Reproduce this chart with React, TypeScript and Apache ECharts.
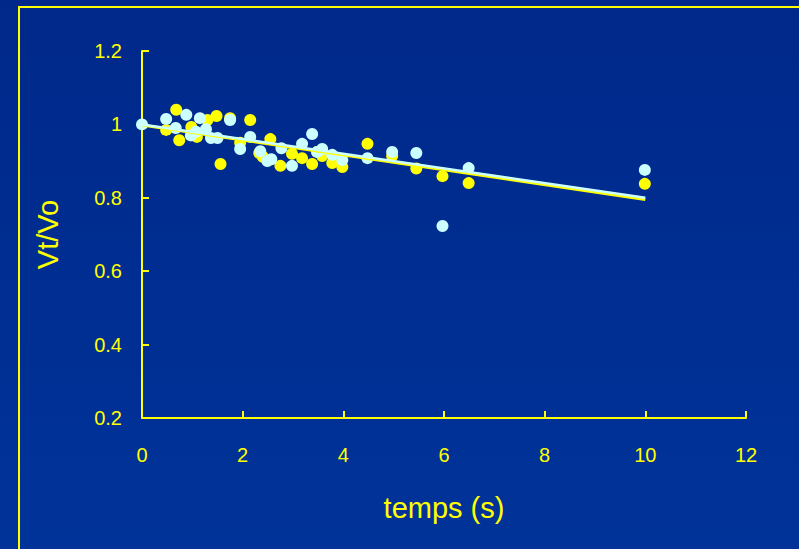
import React, { useEffect, useRef } from "react";
import * as echarts from "echarts";

const xTicks = { min: 0, max: 12, interval: 2 };
const yTicks = { min: 0.2, max: 1.2, interval: 0.2 };

const yellowPoints: [number, number][] = [
  [0.68, 1.04], [0.48, 0.985], [0.74, 0.957], [0.98, 0.993], [1.09, 0.966],
  [1.3, 1.012], [1.48, 1.023], [1.56, 0.892], [1.75, 1.017], [2.15, 1.012],
  [1.95, 0.95], [2.33, 0.922], [2.4, 0.912], [2.55, 0.96], [2.75, 0.887],
  [2.98, 0.92], [3.18, 0.908], [3.38, 0.892], [3.48, 0.925], [3.58, 0.914],
  [3.78, 0.895], [3.98, 0.884], [4.48, 0.947], [4.97, 0.914], [5.45, 0.88],
  [5.97, 0.859], [6.49, 0.84], [9.99, 0.838],
];

const cyanPoints: [number, number][] = [
  [0, 1.0], [0.48, 1.015], [0.88, 1.026], [1.15, 1.017], [0.67, 0.99],
  [0.97, 0.97], [1.07, 0.98], [1.27, 0.987], [1.37, 0.963], [1.5, 0.963],
  [1.75, 1.012], [1.95, 0.933], [2.15, 0.966], [2.35, 0.927], [2.49, 0.9],
  [2.57, 0.905], [2.77, 0.935], [2.98, 0.887], [3.18, 0.947], [3.38, 0.974],
  [3.48, 0.925], [3.58, 0.933], [3.78, 0.917], [3.98, 0.903], [4.48, 0.908],
  [4.97, 0.925], [5.45, 0.922], [5.97, 0.723], [6.49, 0.881], [9.99, 0.876],
];

const yellowFit: [number, number][] = [[0, 0.998], [10, 0.795]];
const cyanFit: [number, number][] = [[0, 1.0], [10, 0.8]];

const YELLOW = "#ffff00";
const CYAN = "#ccffff";
const FONT = "Liberation Sans";

export default function App() {
  const ref = useRef<HTMLDivElement>(null);
  useEffect(() => {
    if (!ref.current) return;
    const chart = echarts.init(ref.current, null, { renderer: "svg" });
    chart.setOption({
      animation: false,
      backgroundColor: {
        type: "linear", x: 0, y: 0, x2: 0, y2: 1,
        colorStops: [
          { offset: 0, color: "#00288a" },
          { offset: 1, color: "#003399" },
        ],
      },
      graphic: [
        {
          type: "rect",
          shape: { x: 19, y: 7, width: 790, height: 560 },
          style: { fill: "none", stroke: YELLOW, lineWidth: 2 },
          silent: true,
        },
      ],
      grid: { left: 142, right: 53, top: 51, bottom: 131, containLabel: false },
      xAxis: {
        type: "value",
        min: xTicks.min, max: xTicks.max, interval: xTicks.interval,
        name: "temps (s)",
        nameLocation: "middle",
        nameGap: 75,
        nameTextStyle: { color: YELLOW, fontSize: 29, fontFamily: FONT },
        axisLine: { show: true, onZero: false, lineStyle: { color: YELLOW, width: 2 } },
        axisTick: { show: true, inside: true, length: 7, lineStyle: { color: YELLOW, width: 2 } },
        axisLabel: { color: YELLOW, fontSize: 20, fontFamily: FONT, margin: 27 },
        splitLine: { show: false },
      },
      yAxis: {
        type: "value",
        min: yTicks.min, max: yTicks.max, interval: yTicks.interval,
        name: "Vt/Vo",
        nameLocation: "middle",
        nameGap: 80,
        nameTextStyle: { color: YELLOW, fontSize: 29, fontFamily: FONT },
        axisLine: { show: true, onZero: false, lineStyle: { color: YELLOW, width: 2 } },
        axisTick: { show: true, inside: true, length: 7, lineStyle: { color: YELLOW, width: 2 } },
        axisLabel: {
          color: YELLOW, fontSize: 20, fontFamily: FONT, margin: 20,
          formatter: (v: number) => String(+v.toFixed(1)),
        },
        splitLine: { show: false },
      },
      series: [
        {
          type: "scatter", data: yellowPoints, symbolSize: 12,
          itemStyle: { color: YELLOW, opacity: 1 }, z: 2,
        },
        {
          type: "scatter", data: cyanPoints, symbolSize: 12,
          itemStyle: { color: CYAN, opacity: 1 }, z: 3,
        },
        {
          type: "line", data: yellowFit, showSymbol: false, symbol: "none",
          lineStyle: { color: YELLOW, width: 3 }, z: 4,
        },
        {
          type: "line", data: cyanFit, showSymbol: false, symbol: "none",
          lineStyle: { color: CYAN, width: 2.5 }, z: 5,
        },
      ],
    });
    return () => chart.dispose();
  }, []);
  return (
    <div
      ref={ref}
      style={{ position: "fixed", left: 0, top: 0, width: 799, height: 549 }}
    />
  );
}
